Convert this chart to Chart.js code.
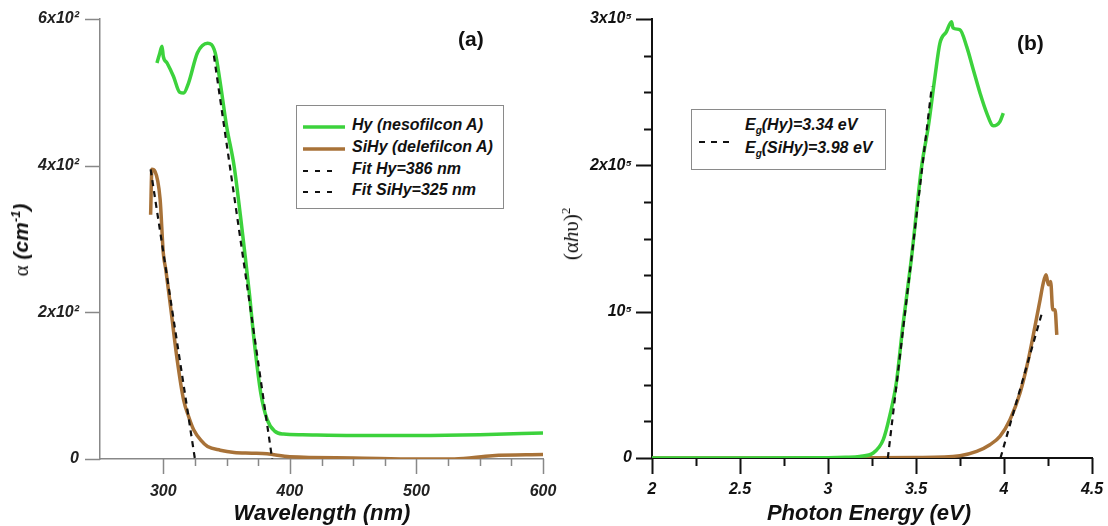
<!DOCTYPE html>
<html>
<head>
    <title>Absorption and Tauc plots</title>
    <script src="https://cdn.jsdelivr.net/npm/chart.js"></script>
    <style>
        body { margin: 0; background: #fff; font-family: Arial, "Liberation Sans", sans-serif; }
        #wrap { position: relative; width: 1108px; height: 526px; overflow: hidden; }
        /* canvases start above the page so the fixed 40px top padding lands the plot top at y=19 */
        canvas { position: absolute; top: -21px; }
        #chartA { left: 0; }
        #chartB { left: 550px; }
        .txt { position: absolute; white-space: nowrap; color: #111; }
        .bi { font-weight: bold; font-style: italic; }
        .rot { transform: translate(-50%, -50%) rotate(-90deg); }
        .legend { position: absolute; border: 1px solid #8a8a8a; background: #fff; box-sizing: border-box; }
        .row { position: absolute; left: 0; height: 22px; line-height: 22px; font: italic bold 16px Arial, sans-serif; color: #111; white-space: nowrap; }
        .row svg { position: absolute; top: 0; }
        .row span { position: absolute; top: 0; white-space: nowrap; }
    </style>
</head>
<body>
<div id="wrap">
    <canvas id="chartA" width="588" height="547"></canvas>
    <canvas id="chartB" width="587" height="547"></canvas>

    <div class="txt" style="left:458px; top:27px; font: bold 21px Arial, sans-serif;">(a)</div>
    <div class="txt" style="left:1017px; top:31px; font: bold 21px Arial, sans-serif;">(b)</div>

    <div class="txt bi" style="left:322px; top:500px; font-size:22px; transform:translateX(-50%);">Wavelength (nm)</div>
    <div class="txt bi" style="left:869px; top:500px; font-size:22px; transform:translateX(-50%);">Photon Energy (eV)</div>

    <div class="txt rot" style="left:21px; top:240px; font-size:21px;"><span style="font-family:'Liberation Serif',serif; font-weight:normal;">&alpha;</span> <span class="bi">(cm<sup style="font-size:13px;">-1</sup>)</span></div>
    <div class="txt rot" style="left:571px; top:234px; font-family:'Liberation Serif',serif; font-size:21px;">(&alpha;<i>h</i>&upsilon;)<sup style="font-size:13px;">2</sup></div>

    <div class="legend" style="left:296px; top:105px; width:208px; height:104px;">
        <div class="row" style="top:10px;"><svg width="50" height="22"><line x1="6" y1="11" x2="48" y2="11" stroke="#3cd23c" stroke-width="3.5"/></svg><span style="left:55px;">Hy (nesofilcon A)</span></div>
        <div class="row" style="top:32px;"><svg width="50" height="22"><line x1="6" y1="11" x2="48" y2="11" stroke="#a87238" stroke-width="3.5"/></svg><span style="left:55px;">SiHy (delefilcon A)</span></div>
        <div class="row" style="top:54px;"><svg width="50" height="22"><line x1="6" y1="11" x2="36" y2="11" stroke="#111" stroke-width="2" stroke-dasharray="5,7"/></svg><span style="left:55px;">Fit Hy=386 nm</span></div>
        <div class="row" style="top:75px;"><svg width="50" height="22"><line x1="6" y1="11" x2="36" y2="11" stroke="#111" stroke-width="2" stroke-dasharray="5,7"/></svg><span style="left:55px;">Fit SiHy=325 nm</span></div>
    </div>

    <div class="legend" style="left:691px; top:109px; width:195px; height:61px;">
        <svg style="position:absolute; left:0; top:22px;" width="50" height="20"><line x1="7" y1="10" x2="43" y2="10" stroke="#111" stroke-width="2" stroke-dasharray="6,6"/></svg>
        <div class="row" style="top:6px;"><span style="left:53px;">E<sub style="font-size:10px;">g</sub>(Hy)=3.34 eV</span></div>
        <div class="row" style="top:29px;"><span style="left:53px;">E<sub style="font-size:10px;">g</sub>(SiHy)=3.98 eV</span></div>
    </div>
</div>

<script>
    // (a) absorption coefficient vs wavelength
    const hyWave   = [295, 297, 299, 300, 303, 308, 313, 316, 320, 327, 335, 341, 345, 350, 356, 361, 365, 368, 372, 377, 382, 388, 395, 410, 450, 500, 550, 600];
    const hyAlpha  = [540, 552, 563, 549, 540, 522, 500, 499, 513, 554, 567, 554, 513, 454, 399, 331, 272, 226, 158, 90, 54, 38, 34, 33, 32, 32, 33, 35.5];
    const siWave   = [290, 291, 293.5, 297.5, 300, 302, 306, 311, 316, 320, 324, 330, 335, 345, 356, 370, 382, 400, 450, 500, 530, 560, 600];
    const siAlpha  = [333, 395, 392, 354, 281, 258, 204, 135, 81, 58, 40, 25, 17, 12, 9, 8, 7, 3, 1.5, 0, 0, 4.5, 6];
    const fitHyWave  = [340, 386];
    const fitHyAlpha = [550, 0];
    const fitSiWave  = [290, 325];
    const fitSiAlpha = [395, 0];

    // (b) Tauc plot
    const hyEnergy = [2, 2.5, 3, 3.1, 3.18, 3.257, 3.314, 3.35, 3.388, 3.425, 3.473, 3.532, 3.57, 3.608, 3.636, 3.673, 3.702, 3.71, 3.75, 3.788, 3.826, 3.864, 3.902, 3.94, 3.977, 3.996];
    const hyTauc   = [0, 0, 200, 500, 1100, 3400, 12500, 28400, 51200, 89900, 135400, 199200, 226500, 260700, 283500, 291400, 298200, 294000, 292600, 281100, 265200, 249300, 235700, 227000, 229900, 235700];
    const siEnergy = [2, 3, 3.5, 3.75, 3.845, 3.92, 3.977, 4.034, 4.091, 4.138, 4.176, 4.205, 4.223, 4.239, 4.252, 4.265, 4.277, 4.29, 4.3];
    const siTauc   = [0, 0, 300, 1600, 4500, 9100, 14800, 26200, 44400, 67100, 89900, 108100, 119500, 125200, 118400, 120600, 101300, 101300, 84200];
    const fitHyE = [3.34, 3.59];
    const fitHyT = [0, 254000];
    const fitSiE = [3.98, 4.22];
    const fitSiT = [0, 101000];

    const GREEN = '#3cd23c';
    const BROWN = '#a87238';

    function pts(xs, ys) {
        return xs.map((x, i) => ({ x: x, y: ys[i] }));
    }

    function curve(xs, ys, color, order) {
        return { data: pts(xs, ys), borderColor: color, borderWidth: 3.5, pointRadius: 0,
                 cubicInterpolationMode: 'monotone', order: order };
    }

    function fit(xs, ys) {
        return { data: pts(xs, ys), borderColor: '#111', borderWidth: 2.2, borderDash: [6, 5],
                 pointRadius: 0, order: 0 };
    }

    // draws major / minor tick marks outside the axes
    const tickMarks = {
        id: 'tickMarks',
        afterDraw(chart, args, o) {
            const ctx = chart.ctx;
            const xs = chart.scales.x, ys = chart.scales.y;
            ctx.save();
            ctx.strokeStyle = o.color;
            ctx.lineWidth = o.width;
            ctx.beginPath();
            xs.ticks.forEach(t => {
                if (t.value < o.xFrom) return;
                const px = Math.round(xs.getPixelForValue(t.value)) + 0.5;
                const len = o.xMajor(t.value) ? o.major : o.minor;
                ctx.moveTo(px, ys.bottom);
                ctx.lineTo(px, ys.bottom + len);
            });
            ys.ticks.forEach(t => {
                const py = Math.round(ys.getPixelForValue(t.value)) + 0.5;
                const len = o.yMajor(t.value) ? o.major : o.minor;
                ctx.moveTo(xs.left, py);
                ctx.lineTo(xs.left - len, py);
            });
            ctx.stroke();
            ctx.restore();
        }
    };

    const tickFont = { family: 'Arial', size: 16, style: 'italic', weight: 'bold' };

    // padding is larger than the room Chart.js wants for the labels, so it is used as given
    new Chart(document.getElementById('chartA'), {
        type: 'line',
        data: {
            datasets: [
                fit(fitHyWave, fitHyAlpha),
                fit(fitSiWave, fitSiAlpha),
                curve(hyWave, hyAlpha, GREEN, 1),
                curve(siWave, siAlpha, BROWN, 2)
            ]
        },
        options: {
            responsive: false,
            animation: false,
            layout: { padding: { left: 0, top: 40, right: 45, bottom: 0 } },
            plugins: {
                legend: { display: false },
                tooltip: { enabled: false },
                tickMarks: { color: '#888888', width: 1.5, major: 15, minor: 7, xFrom: 300,
                             xMajor: v => v % 100 === 0, yMajor: v => true }
            },
            scales: {
                x: {
                    type: 'linear', min: 250, max: 600,
                    grid: { display: false, drawTicks: false },
                    border: { display: true, color: '#888888', width: 1.5 },
                    ticks: { stepSize: 25, autoSkip: false, maxRotation: 0, padding: 23, color: '#222', font: tickFont,
                             callback: v => (v % 100 === 0 && v >= 300) ? String(v) : '' },
                    afterFit: s => { s.height = 67; }
                },
                y: {
                    min: 0, max: 600,
                    grid: { display: false, drawTicks: false },
                    border: { display: true, color: '#888888', width: 1.5 },
                    ticks: { stepSize: 200, autoSkip: false, padding: 21, color: '#222', font: tickFont,
                             callback: v => v === 0 ? '0' : (v / 100) + 'x10\u00B2' },
                    afterFit: s => { s.width = 100; }
                }
            }
        },
        plugins: [tickMarks]
    });

    new Chart(document.getElementById('chartB'), {
        type: 'line',
        data: {
            datasets: [
                fit(fitHyE, fitHyT),
                fit(fitSiE, fitSiT),
                curve(hyEnergy, hyTauc, GREEN, 1),
                curve(siEnergy, siTauc, BROWN, 2)
            ]
        },
        options: {
            responsive: false,
            animation: false,
            layout: { padding: { left: 0, top: 40, right: 45, bottom: 0 } },
            plugins: {
                legend: { display: false },
                tooltip: { enabled: false },
                tickMarks: { color: '#111', width: 2, major: 16, minor: 8, xFrom: 2,
                             xMajor: v => Math.abs(v * 2 - Math.round(v * 2)) < 1e-6,
                             yMajor: v => v % 100000 === 0 }
            },
            scales: {
                x: {
                    type: 'linear', min: 2, max: 4.5,
                    grid: { display: false, drawTicks: false },
                    border: { display: true, color: '#111', width: 2 },
                    ticks: { stepSize: 0.25, autoSkip: false, maxRotation: 0, padding: 22, color: '#111', font: tickFont,
                             callback: v => Math.abs(v * 2 - Math.round(v * 2)) < 1e-6 ? String(v) : '' },
                    afterFit: s => { s.height = 68; }
                },
                y: {
                    min: 0, max: 300000,
                    grid: { display: false, drawTicks: false },
                    border: { display: true, color: '#111', width: 2 },
                    ticks: { stepSize: 25000, autoSkip: false, padding: 20, color: '#111', font: tickFont,
                             callback: v => {
                                 if (v % 100000 !== 0) return '';
                                 if (v === 0) return '0';
                                 if (v === 100000) return '10\u2075';
                                 return (v / 100000) + 'x10\u2075';
                             } },
                    afterFit: s => { s.width = 102; }
                }
            }
        },
        plugins: [tickMarks]
    });
</script>
</body>
</html>
